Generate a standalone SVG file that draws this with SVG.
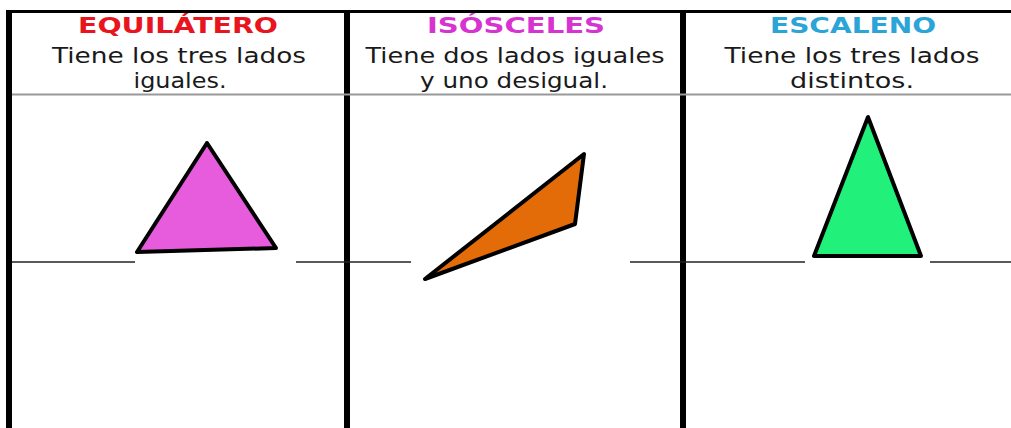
<svg xmlns="http://www.w3.org/2000/svg" width="1011" height="428" viewBox="0 0 1011 428">
<style>
.title{font-family:"DejaVu Sans","Noto Sans",sans-serif;font-weight:bold;font-size:21px;text-anchor:middle}
.body{font-family:"DejaVu Sans","Noto Sans",sans-serif;font-size:22px;fill:#1a1a1a;text-anchor:middle}
.tri{stroke:#000;stroke-width:4;stroke-linejoin:round}
.base{stroke:#222;stroke-width:1.5}
.frame{stroke:#000;fill:none}
</style>
<rect width="1011" height="428" fill="#fff"/>
<g id="frame">
<line class="frame" x1="6" y1="11.5" x2="1011" y2="11.5" stroke-width="3"/>
<line class="frame" x1="9" y1="10" x2="9" y2="428" stroke-width="6"/>
<line class="frame" x1="347" y1="10" x2="347" y2="428" stroke-width="6"/>
<line class="frame" x1="683" y1="10" x2="683" y2="428" stroke-width="6"/>
<line x1="12" y1="94.5" x2="1011" y2="94.5" stroke="#999" stroke-width="2"/>
</g>
<g id="baselines">
<line class="base" x1="12" y1="262" x2="135" y2="262"/>
<line class="base" x1="296" y1="262" x2="411" y2="262"/>
<line class="base" x1="630" y1="262" x2="805" y2="262"/>
<line class="base" x1="930" y1="262" x2="1011" y2="262"/>
</g>
<g id="equilatero">
<text class="title" x="178" y="33" fill="#e8141e" textLength="200" lengthAdjust="spacingAndGlyphs">EQUILÁTERO</text>
<text class="body" x="179" y="63" textLength="254" lengthAdjust="spacingAndGlyphs">Tiene los tres lados</text>
<text class="body" x="180" y="88" textLength="93" lengthAdjust="spacingAndGlyphs">iguales.</text>
<polygon class="tri" points="207,143 137,252 276,248" fill="#e65cdc"/>
</g>
<g id="isosceles">
<text class="title" x="516" y="33" fill="#d633d1" textLength="178" lengthAdjust="spacingAndGlyphs">ISÓSCELES</text>
<text class="body" x="515" y="63" textLength="299" lengthAdjust="spacingAndGlyphs">Tiene dos lados iguales</text>
<text class="body" x="514" y="88" textLength="188" lengthAdjust="spacingAndGlyphs">y uno desigual.</text>
<polygon class="tri" points="584,154 575,224 425,279" fill="#e36c09"/>
</g>
<g id="escaleno">
<text class="title" x="853" y="33" fill="#2ba4d8" textLength="166" lengthAdjust="spacingAndGlyphs">ESCALENO</text>
<text class="body" x="852" y="63" textLength="255" lengthAdjust="spacingAndGlyphs">Tiene los tres lados</text>
<text class="body" x="852" y="88" textLength="124" lengthAdjust="spacingAndGlyphs">distintos.</text>
<polygon class="tri" points="868,117 814,256 921,256" fill="#21f07a"/>
</g>
</svg>
